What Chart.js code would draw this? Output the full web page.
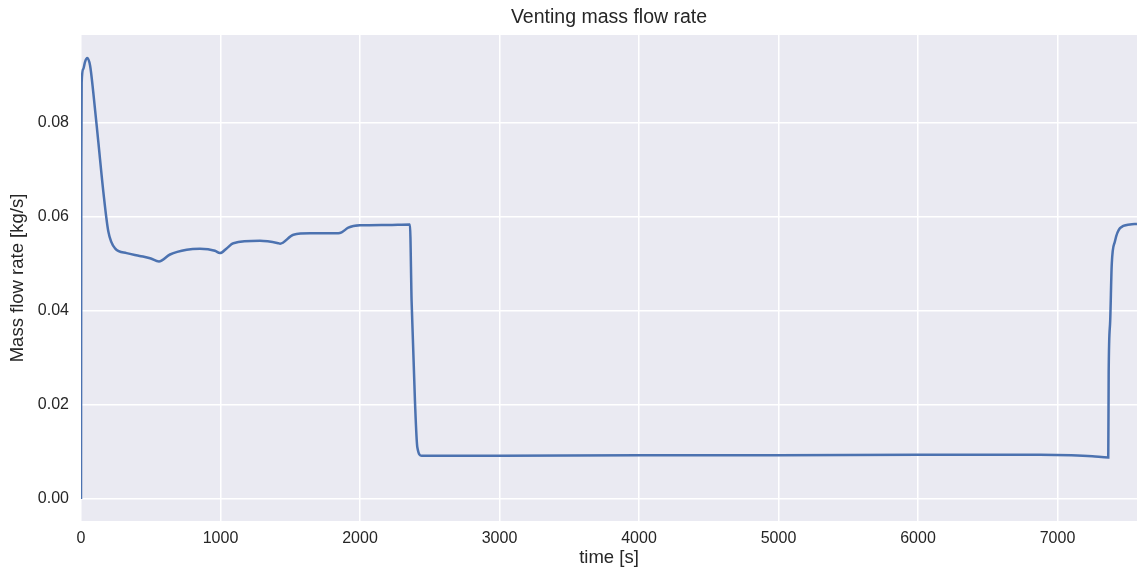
<!DOCTYPE html>
<html>
<head>
<meta charset="utf-8">
<script src="https://cdn.jsdelivr.net/npm/chart.js@4"></script>
<style>
  html, body { margin: 0; padding: 0; background: #ffffff; }
  #wrap { width: 1137px; height: 572px; }
</style>
</head>
<body>
<div id="wrap"><canvas id="flowChart"></canvas></div>
<script>
// time [s]
const times = [0, 2, 5, 17, 29, 45, 65, 88, 124, 160, 196, 244, 327, 420, 495, 559, 638, 758, 853, 960, 996,
  1044, 1092, 1283, 1414, 1427, 1523, 1642, 1845, 1868, 1916, 2000, 2200, 2358, 2370, 2394, 2411, 2442,
  2600, 3000, 4000, 5000, 6000, 6875, 7100, 7250, 7364, 7367, 7378, 7389, 7412, 7448, 7520, 7570];
// mass flow rate [kg/s]
const flow = [0, 0.07, 0.0887, 0.0915, 0.093, 0.0938, 0.0922, 0.0865, 0.076, 0.0654, 0.0569, 0.0533, 0.0523, 0.0517, 0.0512, 0.0505, 0.052, 0.053, 0.0532, 0.0528, 0.0523,
  0.0533, 0.0544, 0.0549, 0.0544, 0.0543, 0.0562, 0.0565, 0.0565, 0.0567, 0.0577, 0.0582, 0.0583, 0.0584, 0.042, 0.0208, 0.011, 0.0092,
  0.0092, 0.0092, 0.0093, 0.0093, 0.0094, 0.0094, 0.0093, 0.0091, 0.0088, 0.027, 0.038, 0.0499, 0.0548, 0.0576, 0.0584, 0.0585];

const xTicks = [0, 1000, 2000, 3000, 4000, 5000, 6000, 7000];
const yTicks = [0, 0.02, 0.04, 0.06, 0.08];

const titleText = 'Venting mass flow rate';
const textColor = '#262626';
const fontFamily = "'Liberation Sans', Arial, sans-serif";

// grey seaborn-like plot background + title centred over the plot area
const plotBackground = {
  id: 'plotBackground',
  beforeDraw(chart) {
    const { ctx, chartArea } = chart;
    ctx.save();
    ctx.fillStyle = '#EAEAF2';
    ctx.fillRect(chartArea.left, chartArea.top, chartArea.right - chartArea.left, chartArea.bottom - chartArea.top);
    ctx.restore();
  },
  afterDraw(chart) {
    const { ctx, chartArea } = chart;
    ctx.save();
    ctx.fillStyle = textColor;
    ctx.font = '19.5px ' + fontFamily;
    ctx.textAlign = 'center';
    ctx.textBaseline = 'middle';
    ctx.fillText(titleText, (chartArea.left + chartArea.right) / 2, 18);
    ctx.restore();
  }
};

const ctx = document.getElementById('flowChart').getContext('2d');
new Chart(ctx, {
  type: 'line',
  data: {
    datasets: [{
      label: titleText,
      data: times.map((t, i) => ({ x: t, y: flow[i] })),
      borderColor: '#4C72B0',
      borderWidth: 2.5,
      pointRadius: 0,
      fill: false,
      cubicInterpolationMode: 'monotone'
    }]
  },
  options: {
    responsive: true,
    maintainAspectRatio: false,
    animation: false,
    layout: { padding: { left: 0, right: 0, top: 35, bottom: 0 } },
    plugins: {
      legend: { display: false },
      tooltip: { enabled: false },
      title: { display: false }
    },
    scales: {
      x: {
        type: 'linear',
        min: 0,
        max: 7570,
        afterBuildTicks: scale => { scale.ticks = xTicks.map(v => ({ value: v })); },
        afterFit: scale => { scale.height = 51; },
        grid: { color: '#ffffff', lineWidth: 1.5, drawTicks: false },
        border: { display: false },
        ticks: {
          color: textColor,
          padding: 8,
          maxRotation: 0,
          font: { family: fontFamily, size: 16 },
          callback: v => String(v)
        },
        title: {
          display: true,
          text: 'time [s]',
          color: textColor,
          font: { family: fontFamily, size: 18.5 },
          padding: { top: 0, bottom: 3 }
        }
      },
      y: {
        min: -0.0047,
        max: 0.0987,
        afterBuildTicks: scale => { scale.ticks = yTicks.map(v => ({ value: v })); },
        afterFit: scale => { scale.width = 81; },
        grid: { color: '#ffffff', lineWidth: 1.5, drawTicks: false },
        border: { display: false },
        ticks: {
          color: textColor,
          padding: 12,
          font: { family: fontFamily, size: 16 },
          callback: v => Number(v).toFixed(2)
        },
        title: {
          display: true,
          text: 'Mass flow rate [kg/s]',
          color: textColor,
          font: { family: fontFamily, size: 18.5 },
          padding: { top: 7, bottom: 0 }
        }
      }
    }
  },
  plugins: [plotBackground]
});
</script>
</body>
</html>
